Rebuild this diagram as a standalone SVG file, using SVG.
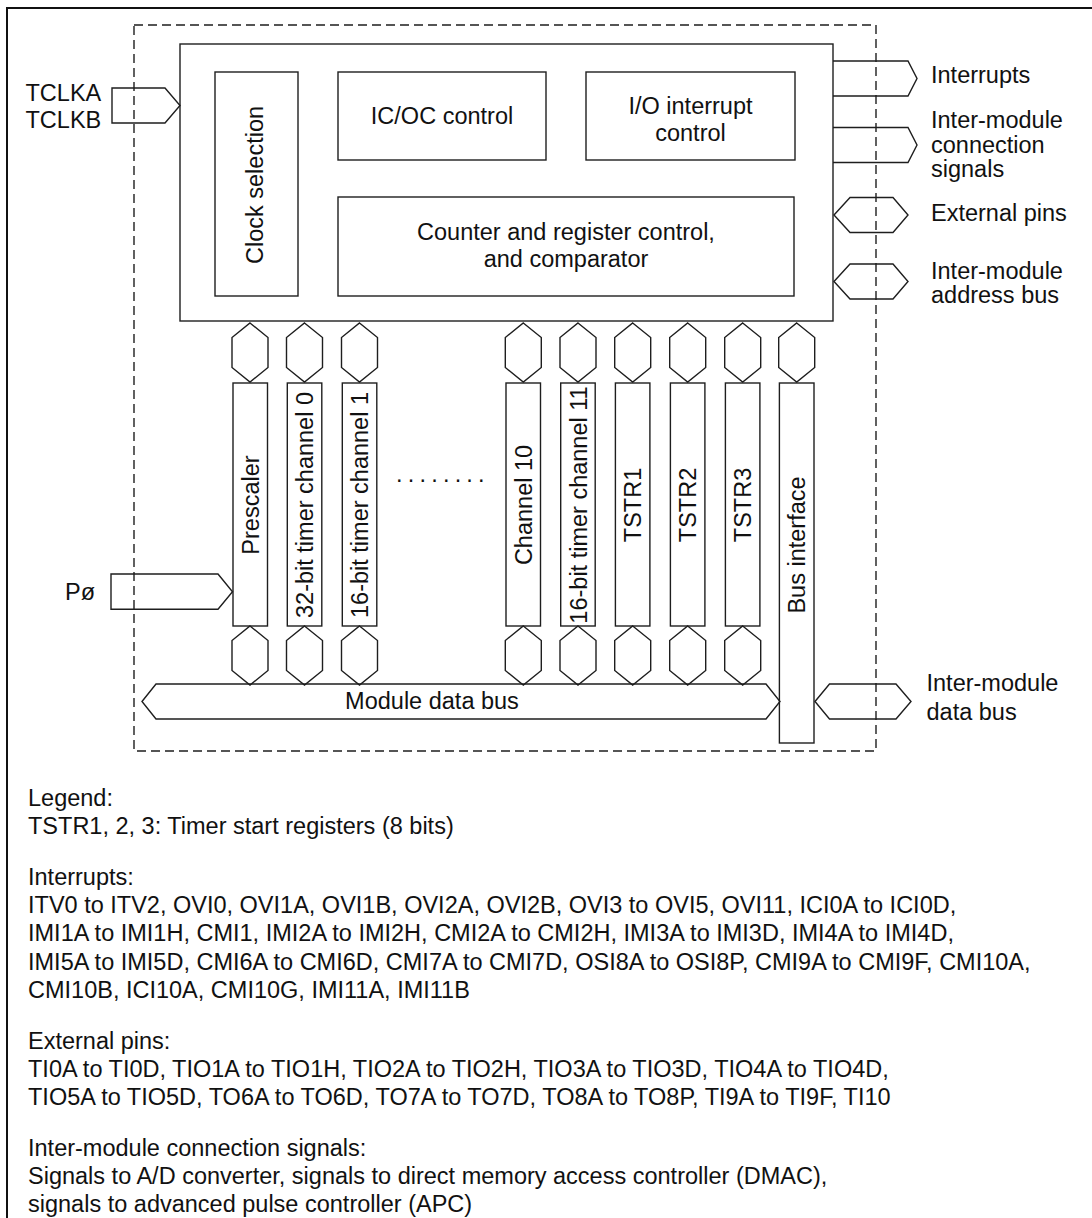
<svg xmlns="http://www.w3.org/2000/svg" width="1092" height="1218" viewBox="0 0 1092 1218">
<style>
  text { font-family: "Liberation Sans", Arial, sans-serif; font-size: 23.5px; fill: #111; }
  .box { fill: none; stroke: #1e1e1e; stroke-width: 1.4; }
  .frame { fill: none; stroke: #111; stroke-width: 2; }
  .dash { fill: none; stroke: #1e1e1e; stroke-width: 1.4; stroke-dasharray: 9 5; }
  .conn { fill: none; stroke: #1e1e1e; stroke-width: 1.4; stroke-linejoin: miter; }
  .mid { text-anchor: middle; }
</style>
<defs>
  <path id="hex" d="M0,0 L18,14.5 L18,44.5 L0,59 L-18,44.5 L-18,14.5 Z"/>
</defs>
<rect width="1092" height="1218" fill="#fff"/>
<g id="outer-frame">
  <path class="frame" d="M7,1218 V8 H1092"/>
</g>
<g id="module-boundary">
  <rect class="dash" x="134" y="25" width="742" height="726"/>
</g>
<g id="control-block">
  <rect class="box" x="180" y="44" width="653" height="277"/>
</g>
<g id="clock-selection">
  <rect class="box" x="215" y="72" width="83" height="224"/>
  <text class="mid" transform="translate(263,185) rotate(-90)">Clock selection</text>
</g>
<g id="icoc-control">
  <rect class="box" x="338" y="72" width="208" height="88"/>
  <text class="mid" x="442" y="124">IC/OC control</text>
</g>
<g id="io-interrupt-control">
  <rect class="box" x="586" y="72" width="209" height="88"/>
  <text class="mid" x="690.5" y="114">I/O interrupt</text>
  <text class="mid" x="690.5" y="141">control</text>
</g>
<g id="counter-register">
  <rect class="box" x="338" y="197" width="456" height="99"/>
  <text class="mid" x="566" y="240">Counter and register control,</text>
  <text class="mid" x="566" y="267">and comparator</text>
</g>
<g id="prescaler">
  <rect class="box" x="233" y="383" width="34.5" height="243"/>
  <text class="mid" transform="translate(258.5,505) rotate(-90)">Prescaler</text>
</g>
<g id="ch0">
  <rect class="box" x="287.3" y="383" width="34.5" height="243"/>
  <text class="mid" transform="translate(313,505) rotate(-90)">32-bit timer channel 0</text>
</g>
<g id="ch1">
  <rect class="box" x="342.3" y="383" width="34.5" height="243"/>
  <text class="mid" transform="translate(368,505) rotate(-90)">16-bit timer channel 1</text>
</g>
<g id="ellipsis">
  <text x="396" y="482" style="letter-spacing:5.2px">........</text>
</g>
<g id="ch10">
  <rect class="box" x="506" y="383" width="34.5" height="243"/>
  <text class="mid" transform="translate(531.8,505) rotate(-90)">Channel 10</text>
</g>
<g id="ch11">
  <rect class="box" x="560.7" y="383" width="34.5" height="243"/>
  <text class="mid" transform="translate(586.5,505) rotate(-90)">16-bit timer channel 11</text>
</g>
<g id="tstr1">
  <rect class="box" x="615.4" y="383" width="34.5" height="243"/>
  <text class="mid" transform="translate(641.2,505) rotate(-90)">TSTR1</text>
</g>
<g id="tstr2">
  <rect class="box" x="670.4" y="383" width="34.5" height="243"/>
  <text class="mid" transform="translate(696.2,505) rotate(-90)">TSTR2</text>
</g>
<g id="tstr3">
  <rect class="box" x="725.4" y="383" width="34.5" height="243"/>
  <text class="mid" transform="translate(751.2,505) rotate(-90)">TSTR3</text>
</g>
<g id="bus-interface">
  <rect class="box" x="779.4" y="383" width="34.6" height="360"/>
  <text class="mid" transform="translate(805.2,545) rotate(-90)">Bus interface</text>
</g>
<g id="connectors">
  <polygon class="conn" points="112,88 165,88 180,105.5 165,123 112,123"/>
  <polygon class="conn" points="111,574 218,574 232.5,591.7 218,609.3 111,609.3"/>
  <path class="conn" d="M833,61 H908 L917,78.5 L908,96 H833"/>
  <path class="conn" d="M833,127.5 H908 L917,145 L908,162.5 H833"/>
  <polygon class="conn" points="834,215 850,197.5 893,197.5 908,215 893,232.5 850,232.5"/>
  <polygon class="conn" points="834,281.5 850,264 893,264 908,281.5 893,299 850,299"/>
  <polygon class="conn" points="815,701.5 829.5,684 896,684 911,701.5 896,719 829.5,719"/>
  <use href="#hex" class="conn" x="250" y="323"/>
  <use href="#hex" class="conn" x="304.5" y="323"/>
  <use href="#hex" class="conn" x="359.5" y="323"/>
  <use href="#hex" class="conn" x="523.3" y="323"/>
  <use href="#hex" class="conn" x="578" y="323"/>
  <use href="#hex" class="conn" x="632.7" y="323"/>
  <use href="#hex" class="conn" x="687.7" y="323"/>
  <use href="#hex" class="conn" x="742.7" y="323"/>
  <use href="#hex" class="conn" x="796.7" y="323"/>
  <use href="#hex" class="conn" x="250" y="626"/>
  <use href="#hex" class="conn" x="304.5" y="626"/>
  <use href="#hex" class="conn" x="359.5" y="626"/>
  <use href="#hex" class="conn" x="523.3" y="626"/>
  <use href="#hex" class="conn" x="578" y="626"/>
  <use href="#hex" class="conn" x="632.7" y="626"/>
  <use href="#hex" class="conn" x="687.7" y="626"/>
  <use href="#hex" class="conn" x="742.7" y="626"/>
  <polygon class="conn" points="142,701.5 156,684 766,684 780,701.5 766,719 156,719"/>
</g>
<g id="labels">
  <text x="25.5" y="101">TCLKA</text>
  <text x="25.5" y="128">TCLKB</text>
  <text x="65" y="600">Pø</text>
  <text x="931" y="83">Interrupts</text>
  <text x="931" y="128">Inter-module</text>
  <text x="931" y="152.5">connection</text>
  <text x="931" y="177">signals</text>
  <text x="931" y="221">External pins</text>
  <text x="931" y="278.5">Inter-module</text>
  <text x="931" y="303">address bus</text>
  <text x="926.5" y="691">Inter-module</text>
  <text x="926.5" y="719.5">data bus</text>
  <text class="mid" x="432" y="708.5">Module data bus</text>
</g>
<g id="legend">
  <text x="28" y="806">Legend:</text>
  <text x="28" y="834.2">TSTR1, 2, 3: Timer start registers (8 bits)</text>
  <text x="28" y="885">Interrupts:</text>
  <text x="28" y="913.2">ITV0 to ITV2, OVI0, OVI1A, OVI1B, OVI2A, OVI2B, OVI3 to OVI5, OVI11, ICI0A to ICI0D,</text>
  <text x="28" y="941.4">IMI1A to IMI1H, CMI1, IMI2A to IMI2H, CMI2A to CMI2H, IMI3A to IMI3D, IMI4A to IMI4D,</text>
  <text x="28" y="969.6">IMI5A to IMI5D, CMI6A to CMI6D, CMI7A to CMI7D, OSI8A to OSI8P, CMI9A to CMI9F, CMI10A,</text>
  <text x="28" y="997.8">CMI10B, ICI10A, CMI10G, IMI11A, IMI11B</text>
  <text x="28" y="1048.6">External pins:</text>
  <text x="28" y="1076.8">TI0A to TI0D, TIO1A to TIO1H, TIO2A to TIO2H, TIO3A to TIO3D, TIO4A to TIO4D,</text>
  <text x="28" y="1105">TIO5A to TIO5D, TO6A to TO6D, TO7A to TO7D, TO8A to TO8P, TI9A to TI9F, TI10</text>
  <text x="28" y="1155.8">Inter-module connection signals:</text>
  <text x="28" y="1184">Signals to A/D converter, signals to direct memory access controller (DMAC),</text>
  <text x="28" y="1211.5">signals to advanced pulse controller (APC)</text>
</g>
</svg>
